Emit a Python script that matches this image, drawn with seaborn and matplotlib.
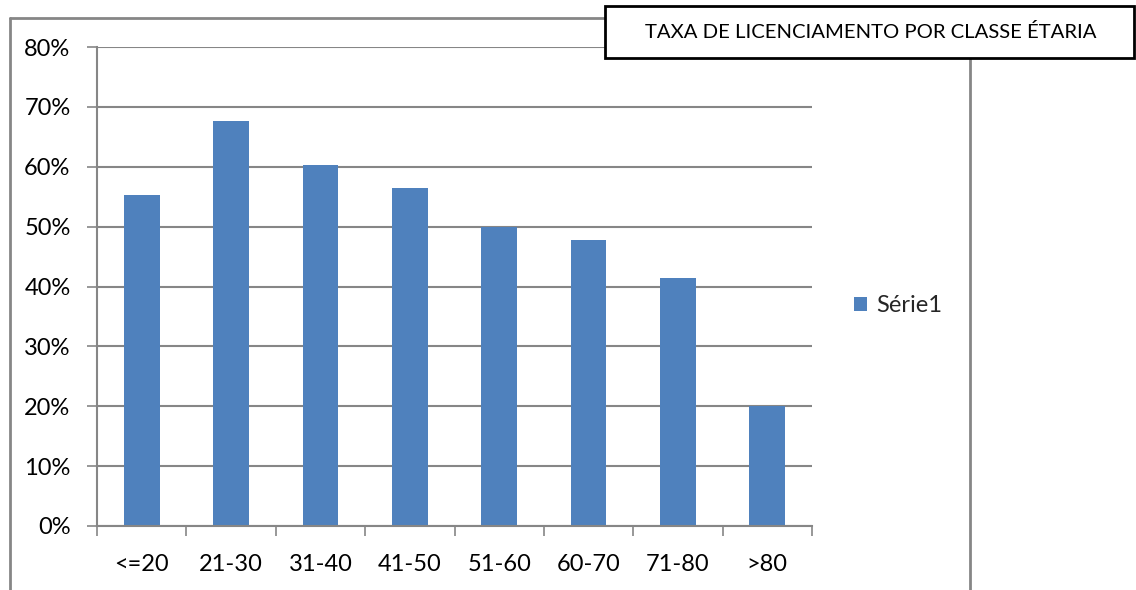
import matplotlib
matplotlib.use("Agg")
import matplotlib.pyplot as plt
from matplotlib.lines import Line2D
from matplotlib.patches import Rectangle, Patch
from matplotlib.ticker import FixedLocator, PercentFormatter
import seaborn as sns
import pandas as pd

# Taxa de licenciamento por classe etária
classes = ["<=20", "21-30", "31-40", "41-50", "51-60", "60-70", "71-80", ">80"]
taxas = [0.552, 0.677, 0.603, 0.565, 0.500, 0.477, 0.415, 0.200]
serie = "Série1"
titulo = "TAXA DE LICENCIAMENTO POR CLASSE ÉTARIA"
y_ticks = [0.0, 0.1, 0.2, 0.3, 0.4, 0.5, 0.6, 0.7, 0.8]

sns.set_theme(style="white")
plt.rcParams["font.family"] = ["Lato", "DejaVu Sans"]

W, H = 1136, 590
GRAY = "#868686"
BLUE = "#4F81BD"
LABEL_SIZE = 17

fig = plt.figure(figsize=(W / 100, H / 100), dpi=100)
fig.patch.set_facecolor("white")

def fx(px):
    return px / W

def fy(py):
    return 1 - py / H

ax = fig.add_axes([fx(97), fy(526), fx(812) - fx(97), fy(47) - fy(526)])

df = pd.DataFrame({"classe": classes, "taxa": taxas})
sns.barplot(data=df, x="classe", y="taxa", color=BLUE, width=0.4,
            saturation=1, linewidth=0, ax=ax)

ax.set_xlim(-0.5, len(classes) - 0.5)
ax.set_ylim(0, 0.8)
ax.set_xlabel("")
ax.set_ylabel("")

# horizontal gridlines
ax.yaxis.set_major_locator(FixedLocator(y_ticks))
ax.yaxis.set_major_formatter(PercentFormatter(1.0, decimals=0))
ax.grid(axis="y", color=GRAY, linewidth=1.5)
ax.grid(axis="x", visible=False)
ax.set_axisbelow(True)

for side in ["top", "right"]:
    ax.spines[side].set_visible(False)
for side in ["left", "bottom"]:
    ax.spines[side].set_color(GRAY)
    ax.spines[side].set_linewidth(1.5)

# category separators as minor ticks
ax.set_xticks([i - 0.5 for i in range(len(classes) + 1)], minor=True)
ax.tick_params(axis="x", which="minor", length=7, width=1.2, color=GRAY,
               direction="out", bottom=True)
ax.tick_params(axis="x", which="major", length=0, pad=20,
               labelsize=LABEL_SIZE, labelcolor="black")
ax.tick_params(axis="y", which="major", length=7, width=1.2, color=GRAY,
               direction="out", left=True, pad=12, labelsize=LABEL_SIZE,
               labelcolor="black")

# chart frame
frame_kw = dict(color=GRAY, linewidth=2, transform=fig.transFigure)
fig.add_artist(Line2D([fx(10), fx(10)], [fy(18), fy(590)], **frame_kw))
fig.add_artist(Line2D([fx(10), fx(605)], [fy(18), fy(18)], **frame_kw))
fig.add_artist(Line2D([fx(970), fx(970)], [fy(58), fy(590)], **frame_kw))

# title box
fig.add_artist(Rectangle((fx(605), fy(58)), fx(1134) - fx(605), fy(6) - fy(58),
                         transform=fig.transFigure, facecolor="white",
                         edgecolor="black", linewidth=2, zorder=5))
fig.text(fx(871), fy(32), titulo, ha="center", va="center", fontsize=14.6,
         color="black", zorder=6)

# legend
handles = [Patch(facecolor=BLUE, edgecolor="none", label=serie)]
fig.legend(handles=handles, loc="center left",
           bbox_to_anchor=(fx(854), fy(306)), frameon=False,
           fontsize=LABEL_SIZE, handlelength=0.55, handleheight=0.55,
           handletextpad=0.4, borderpad=0, borderaxespad=0)

fig.savefig("out.png", dpi=100, facecolor="white")
